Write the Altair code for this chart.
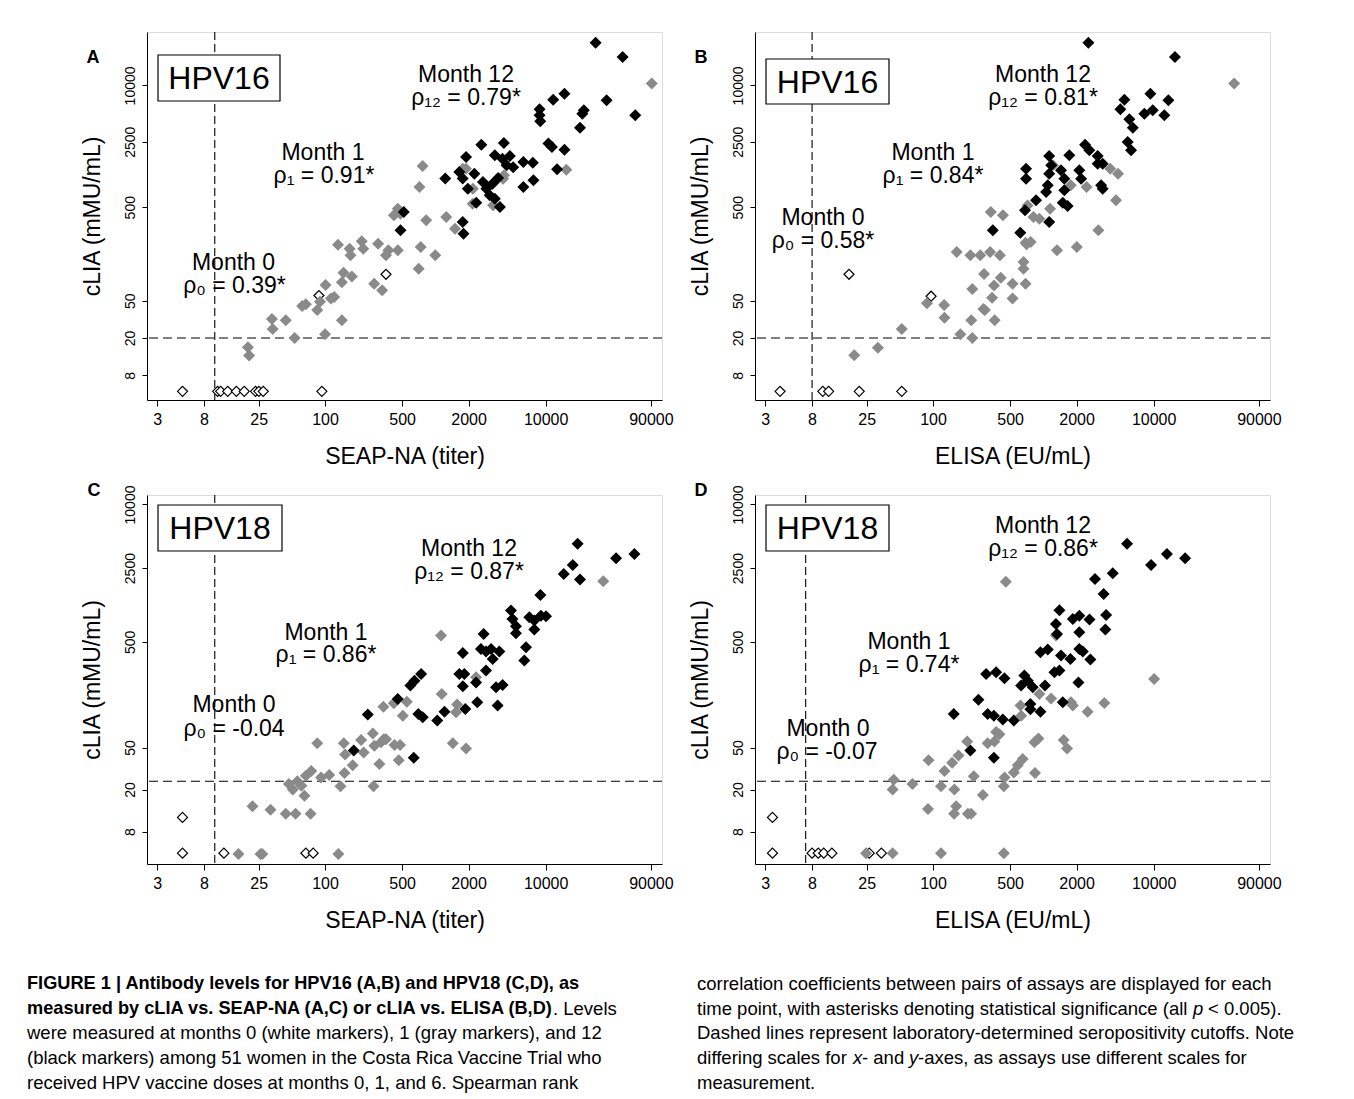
import altair as alt
import pandas as pd

FONT = "Liberation Sans"

# ---------------- data ----------------
x_ticks = [3, 8, 25, 100, 500, 2000, 10000, 90000]
y_ticks = [8, 20, 50, 500, 2500, 10000]

# Panel A : HPV16, cLIA vs SEAP-NA
a_m0_x = [5.1, 10.6, 11.3, 13.1, 15.7, 18.5, 23.4, 25.1, 27.5, 93.5, 88, 357]
a_m0_y = [5.4, 5.4, 5.4, 5.4, 5.4, 5.4, 5.4, 5.4, 5.4, 5.4, 57, 96]
a_m1_x = [20, 20.5, 33, 33.5, 44, 53, 62, 67, 85, 90, 101, 100, 113, 121, 142, 142, 147, 175, 131, 167,
          170, 215, 222, 303, 279, 329, 357, 375, 457, 421, 457, 706, 736, 826, 998, 718, 767, 1256, 1507,
          1773, 2180, 4190, 15400, 91600, 482, 1897, 2190, 3335, 4110]
a_m1_y = [16, 13, 32, 25, 31, 20, 44, 46, 40, 49, 74, 22, 53, 55, 31, 79, 100, 91, 199, 180,
          153, 216, 180, 204, 76, 65, 153, 173, 173, 409, 482, 110, 188, 362, 153, 822, 1377, 393, 294,
          1290, 545, 1096, 1258, 10450, 426, 1290, 789, 525, 1007]
a_m12_x = [28400, 49900, 14800, 11700, 8810, 8810, 8940, 22200, 21500, 20500, 35700, 64900, 10600, 11400,
           14800, 12700, 2610, 4180, 3460, 4060, 4740, 4420, 5080, 6280, 7650, 7750, 6280, 1900, 1650, 1230,
           1770, 2260, 1970, 2350, 2700, 2900, 3110, 3460, 3850, 3300, 3710, 517, 483, 1770, 1800]
a_m12_y = [28600, 20100, 8150, 7030, 5560, 4800, 4140, 5420, 4990, 3530, 6930, 4800, 2390, 2200,
           2060, 1270, 2330, 2430, 1790, 1650, 1760, 1400, 1340, 1520, 1490, 968, 822, 1720, 1190, 1010,
           1010, 1140, 789, 558, 929, 789, 670, 617, 502, 891, 1025, 445, 283, 347, 261]

# Panel B : HPV16, cLIA vs ELISA
b_m0_x = [4.1, 10, 11.3, 21.4, 52, 17.3, 96]
b_m0_y = [5.4, 5.4, 5.4, 5.4, 5.4, 96, 56]
b_m1_x = [19.3, 31.6, 52, 88, 126, 127, 177, 227, 222, 227, 290, 286, 295, 343, 357, 362, 411, 526, 526,
          164, 218, 268, 329, 404, 334, 430, 661, 661, 690, 690, 705, 768, 719, 813, 920, 1150, 1330, 1224,
          2010, 1775, 2466, 3155, 4040, 4760, 4560, 53700]
b_m1_y = [13.1, 15.8, 25, 47, 45, 33, 22, 20, 31, 67, 97, 41, 40, 54, 73, 31, 88, 76, 53,
          166, 153, 153, 166, 153, 445, 409, 130, 110, 76, 209, 201, 212, 523, 393, 377, 482, 173, 1400,
          188, 857, 822, 283, 1290, 1140, 593, 10450]
b_m12_x = [2560, 15600, 5430, 4990, 6020, 6470, 9340, 8240, 9820, 13600, 12500, 5820, 6240, 2390, 2610,
           3110, 3450, 3110, 1130, 1720, 1180, 697, 697, 1130, 1446, 1550, 2120, 2200, 1096, 1060, 1550,
           3340, 3450, 859, 682, 1500, 1660, 1130, 348, 618]
b_m12_y = [28600, 20100, 7030, 5560, 4350, 3530, 8150, 4990, 5420, 6930, 4800, 2490, 2030, 2330, 2030,
           1760, 1460, 1460, 1760, 1790, 1400, 1290, 1007, 1140, 1240, 1007, 1240, 1007, 857, 728, 758,
           857, 789, 593, 464, 558, 515, 347, 283, 267]

# Panel C : HPV18, cLIA vs SEAP-NA
c_m0_x = [5.1, 5.1, 12.1, 67, 78]
c_m0_y = [5.0, 10.9, 5.0, 5.0, 5.0]
c_m1_x = [16.4, 26, 27, 132, 22, 32, 44, 54, 74, 47, 51, 56, 61, 65, 67, 75, 92, 109, 85, 138, 150, 148,
          152, 178, 212, 224, 271, 280, 275, 322, 341, 357, 311, 426, 479, 466, 338, 420, 551, 507, 1127,
          1143, 1573, 1540, 1440, 1900, 2340, 33300]
c_m1_y = [4.9, 4.9, 4.9, 4.9, 13.9, 12.9, 11.8, 11.8, 11.8, 22.6, 20, 24, 21.8, 17.5, 27, 30, 26, 27.5, 55,
          21.5, 28.7, 55, 43, 34, 59, 45, 68, 52, 21.5, 56, 60, 60, 35, 53, 53, 38, 122, 131, 136, 100, 574,
          161, 128, 108, 55, 49, 231, 1875]
c_m12_x = [19500, 17600, 14600, 20500, 43500, 63800, 8960, 4850, 5000, 5380, 5380, 7110, 7890, 9060,
           10070, 7890, 6640, 6410, 2740, 2590, 2880, 3200, 3310, 3800, 1775, 1650, 1830, 1775, 2340, 2880,
           3550, 4070, 2400, 3670, 1870, 1210, 1040, 702, 769, 743, 646, 594, 456, 244, 182, 637]
c_m12_y = [4240, 2680, 2200, 1950, 3100, 3400, 1390, 991, 824, 703, 604, 855, 796, 887,
           875, 655, 445, 333, 594, 429, 405, 429, 345, 405, 393, 248, 248, 190, 207, 268,
           186, 195, 134, 125, 116, 109, 90, 104, 97, 248, 215, 193, 144, 103, 47, 40]

# Panel D : HPV18, cLIA vs ELISA
d_m0_x = [3.5, 3.5, 8.0, 9.1, 10.2, 12.1, 26.4, 34]
d_m0_y = [10.9, 5.0, 5.0, 5.0, 5.0, 5.0, 5.0, 5.0]
d_m1_x = [24.7, 43, 118, 438, 44, 43, 65, 91, 90, 118, 127, 149, 170, 156, 162, 155, 207, 221, 204, 234,
          283, 313, 360, 400, 438, 445, 540, 586, 650, 620, 630, 830, 902, 840, 920, 1175, 1780, 1850,
          1530, 1640, 2520, 3570, 10100, 457, 1300, 373]
d_m1_y = [5.0, 5.0, 5.0, 5.0, 24.8, 20, 22.6, 38, 13.1, 21.5, 30, 36, 42, 20, 13.9, 11.8, 11.8, 11.8, 57,
          26.7, 17.8, 55, 57, 67, 21.5, 26, 29, 34, 39, 125, 100, 56, 61, 28.7, 161, 146, 134, 125,
          59, 49, 109, 132, 223, 1860, 574, 70]
d_m12_x = [5740, 9480, 13200, 19300, 2940, 4260, 3520, 1400, 1850, 2120, 2620, 3710, 3650, 1300, 1330,
           2120, 941, 1096, 1446, 1760, 2120, 2280, 2670, 1260, 1400, 2080, 673, 722, 628, 802, 1035, 1500,
           303, 373, 444, 258, 313, 356, 429, 540, 763, 763, 941, 154, 218, 356]
d_m12_y = [4240, 2680, 3400, 3100, 1970, 2230, 1420, 1000, 824, 887, 814, 900, 655, 740, 594,
           617, 399, 423, 371, 345, 429, 405, 340, 258, 268, 207, 240, 215, 193, 186, 193, 134,
           248, 258, 226, 142, 104, 100, 92, 90, 129, 115, 109, 104, 47, 40]

caption_left = [
    "FIGURE 1 | Antibody levels for HPV16 (A,B) and HPV18 (C,D), as",
    "measured by cLIA vs. SEAP-NA (A,C) or cLIA vs. ELISA (B,D)",
    ". Levels",
    "were measured at months 0 (white markers), 1 (gray markers), and 12",
    "(black markers) among 51 women in the Costa Rica Vaccine Trial who",
    "received HPV vaccine doses at months 0, 1, and 6. Spearman rank",
]
caption_right = [
    "correlation coefficients between pairs of assays are displayed for each",
    "time point, with asterisks denoting statistical significance (all",
    "p", "< 0.005).",
    "Dashed lines represent laboratory-determined seropositivity cutoffs. Note",
    "differing scales for", "x", "- and", "y", "-axes, as assays use different scales for",
    "measurement.",
]

# ---------------- helpers ----------------
GRAY = "#8a8a8a"


def txt(s, x, y, size=23, weight="normal", align="center", style="normal", baseline="middle"):
    return alt.Chart(pd.DataFrame({"t": [s]})).mark_text(
        align=align, baseline=baseline, fontSize=size, fontWeight=weight, fontStyle=style,
        color="black", font=FONT
    ).encode(x=alt.value(x), y=alt.value(y), text="t:N")


def make_panel(letter, hpv, xtitle, ydom, m0, m1, m12, xcut, ycut, box, letter_pos, notes, width, height,
               extra=None):
    xs = alt.Scale(type="log", domain=[2.43, 113500], nice=False, zero=False)
    ys = alt.Scale(type="log", domain=ydom, nice=False, zero=False)
    xax = alt.Axis(values=x_ticks, format="d", grid=False, labelFontSize=16, titleFontSize=23,
                   tickSize=6, labelPadding=5, titlePadding=18, labelFlush=False, labelOverlap=False,
                   domainColor="black", tickColor="black", labelColor="black", titleColor="black",
                   titleFontWeight="normal", labelFont=FONT, titleFont=FONT, domainWidth=1, tickWidth=1)
    yax = alt.Axis(values=y_ticks, format="d", grid=False, labelFontSize=14, titleFontSize=23,
                   tickSize=5, labelPadding=5, titlePadding=19, labelFlush=False, labelOverlap=False,
                   labelAngle=270, labelAlign="center", labelBaseline="bottom",
                   domainColor="black", tickColor="black", labelColor="black", titleColor="black",
                   titleFontWeight="normal", labelFont=FONT, titleFont=FONT, domainWidth=1, tickWidth=1)

    def X(f):
        return alt.X(f, type="quantitative", scale=xs, axis=xax, title=xtitle)

    def Y(f):
        return alt.Y(f, type="quantitative", scale=ys, axis=yax, title="cLIA (mMU/mL)")

    def pts(xv, yv, fill, stroke, size, sw):
        return alt.Chart(pd.DataFrame({"x": xv, "y": yv})).mark_point(
            shape="diamond", filled=True, fill=fill, stroke=stroke, strokeWidth=sw, size=size,
            opacity=1, fillOpacity=1, strokeOpacity=1
        ).encode(x=X("x"), y=Y("y"))

    vrule = alt.Chart(pd.DataFrame({"x": [xcut]})).mark_rule(
        color="black", strokeWidth=1.1, strokeDash=[8, 4]).encode(x=X("x"))
    hrule = alt.Chart(pd.DataFrame({"y": [ycut]})).mark_rule(
        color="black", strokeWidth=1.1, strokeDash=[9, 5]).encode(y=Y("y"))

    layers = [vrule, hrule,
              pts(m0[0], m0[1], "white", "black", 100, 1.2),
              pts(m1[0], m1[1], GRAY, GRAY, 144, 0),
              pts(m12[0], m12[1], "black", "black", 144, 0)]

    x1, y1, x2, y2 = box
    rect = alt.Chart(pd.DataFrame({"a": [0]})).mark_rect(
        fill="white", stroke="black", strokeWidth=1.2).encode(
        x=alt.value(x1), x2=alt.value(x2), y=alt.value(y1), y2=alt.value(y2))
    layers.append(rect)
    layers.append(txt(hpv, (x1 + x2) / 2, (y1 + y2) / 2 + 1, size=32))
    layers.append(txt(letter, letter_pos[0], letter_pos[1], size=18, weight="bold"))
    for s, (px, py) in notes:
        layers.append(txt(s, px, py, size=23))
    if extra:
        layers.extend(extra)
    return alt.layer(*layers).properties(width=width, height=height)


# caption layers (positioned relative to lower panels)
cap_size = 18.5
cap_bold = 18.2
left_cap = [
    txt(caption_left[0], -120, 489, size=cap_bold, weight="bold", align="left"),
    txt(caption_left[1], -120, 514, size=cap_bold, weight="bold", align="left"),
    txt(caption_left[2], 406, 514, size=cap_size, align="left"),
    txt(caption_left[3], -120, 538, size=cap_size, align="left"),
    txt(caption_left[4], -120, 563, size=cap_size, align="left"),
    txt(caption_left[5], -120, 588, size=cap_size, align="left"),
]
right_cap = [
    txt(caption_right[0], -58, 489, size=cap_size, align="left"),
    txt(caption_right[1], -58, 514, size=cap_size, align="left"),
    txt(caption_right[2], 438, 514, size=cap_size, align="left", style="italic"),
    txt(caption_right[3], 453, 514, size=cap_size, align="left"),
    txt(caption_right[4], -58, 538, size=cap_size, align="left"),
    txt(caption_right[5], -58, 563, size=cap_size, align="left"),
    txt(caption_right[6], 98, 563, size=cap_size, align="left", style="italic"),
    txt(caption_right[7], 107, 563, size=cap_size, align="left"),
    txt(caption_right[8], 154, 563, size=cap_size, align="left", style="italic"),
    txt(caption_right[9], 163, 563, size=cap_size, align="left"),
    txt(caption_right[10], -58, 588, size=cap_size, align="left"),
]

pA = make_panel("A", "HPV16", "SEAP-NA (titer)", [4.36, 37200],
                (a_m0_x, a_m0_y), (a_m1_x, a_m1_y), (a_m12_x, a_m12_y), 10, 20,
                (11, 23, 133, 69), (-54, 26),
                [("Month 0", (86.5, 231)), ("ρ₀ = 0.39*", (87.5, 254)),
                 ("Month 1", (176, 121)), ("ρ₁ = 0.91*", (177, 144)),
                 ("Month 12", (319, 43)), ("ρ₁₂ = 0.79*", (319, 66))], 515, 368)
pB = make_panel("B", "HPV16", "ELISA (EU/mL)", [4.36, 37200],
                (b_m0_x, b_m0_y), (b_m1_x, b_m1_y), (b_m12_x, b_m12_y), 8, 20,
                (11, 27, 134, 72), (-54, 26),
                [("Month 0", (68, 186)), ("ρ₀ = 0.58*", (68, 209)),
                 ("Month 1", (178, 121)), ("ρ₁ = 0.84*", (178, 144)),
                 ("Month 12", (288, 43)), ("ρ₁₂ = 0.81*", (288, 66))], 515, 368)
pC = make_panel("C", "HPV18", "SEAP-NA (titer)", [3.95, 12300],
                (c_m0_x, c_m0_y), (c_m1_x, c_m1_y), (c_m12_x, c_m12_y), 10, 24,
                (11, 10, 135, 56), (-53, -4),
                [("Month 0", (87, 210)), ("ρ₀ = -0.04", (87, 234)),
                 ("Month 1", (179, 138)), ("ρ₁ = 0.86*", (179, 160)),
                 ("Month 12", (322, 54)), ("ρ₁₂ = 0.87*", (322, 77))], 515, 369, extra=left_cap)
pD = make_panel("D", "HPV18", "ELISA (EU/mL)", [3.95, 12300],
                (d_m0_x, d_m0_y), (d_m1_x, d_m1_y), (d_m12_x, d_m12_y), 7, 24,
                (11, 10, 134, 56), (-54, -4),
                [("Month 0", (73, 234)), ("ρ₀ = -0.07", (72, 257)),
                 ("Month 1", (154, 147)), ("ρ₁ = 0.74*", (154, 170)),
                 ("Month 12", (288, 31)), ("ρ₁₂ = 0.86*", (288, 54))], 515, 369, extra=right_cap)

chart = alt.concat(pA, pB, pC, pD, columns=2, spacing={"row": 95, "column": 93}, bounds="flush").properties(
    padding={"left": 18, "top": 22, "right": 10, "bottom": 10}
).configure_view(stroke=None).configure(font=FONT, background="white")

chart.save("out.html", embed_options={"renderer": "svg", "actions": False})
